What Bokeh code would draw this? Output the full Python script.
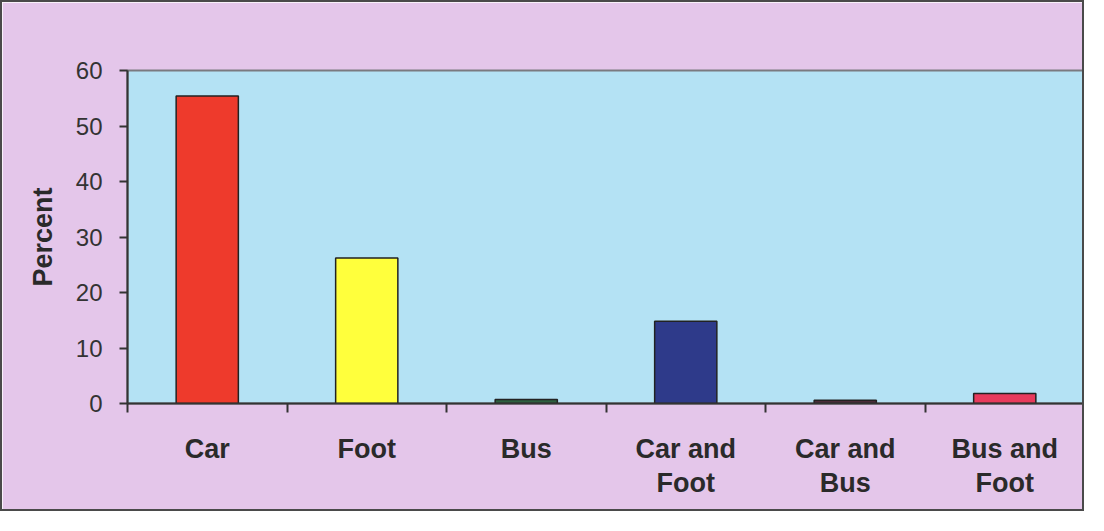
from bokeh.plotting import figure
from bokeh.models import Range1d, FixedTicker, CustomJSTickFormatter, ColumnDataSource
from bokeh.embed import file_html
from bokeh.resources import INLINE

categories = ["Car", "Foot", "Bus", "Car and\nFoot", "Car and\nBus", "Bus and\nFoot"]
percent = [55.4, 26.2, 0.7, 14.8, 0.6, 1.8]
colors = ["#EE3A2C", "#FFFF3C", "#2E6040", "#2E3A8A", "#4A2C38", "#E83A5C"]
y_ticks = [0, 10, 20, 30, 40, 50, 60]

n = len(categories)
xpos = [i + 0.5 for i in range(n)]
src = ColumnDataSource(dict(x=xpos, top=percent, color=colors))

p = figure(width=1084, height=511, output_backend="svg", toolbar_location=None,
           x_range=Range1d(0, n), y_range=Range1d(0, 60),
           min_border_left=125, min_border_top=68, min_border_right=2, min_border_bottom=110)
p.styles = {"border": "2px solid #4A4A4A"}
p.border_fill_color = "#E4C6EA"
p.background_fill_color = "#B4E2F4"
p.outline_line_color = "#7A7A80"
p.outline_line_width = 2
p.grid.visible = False

p.vbar(x="x", top="top", width=0.39, bottom=0, fill_color="color",
       line_color="#222222", line_width=1.5, source=src)

# x axis: labels at centres, tick marks at category boundaries
xa = p.xaxis[0]
xa.ticker = FixedTicker(ticks=xpos, minor_ticks=list(range(n + 1)))
xa.formatter = CustomJSTickFormatter(args=dict(labels=categories),
                                     code="return labels[Math.round(tick - 0.5)];")
xa.major_tick_line_color = None
xa.major_tick_out = 0
xa.major_tick_in = 0
xa.minor_tick_line_color = "#333333"
xa.minor_tick_line_width = 2
xa.minor_tick_out = 9
xa.minor_tick_in = 0
xa.axis_line_color = "#333333"
xa.axis_line_width = 2
xa.major_label_standoff = 21
xa.major_label_text_font = "Liberation Sans"
xa.major_label_text_font_style = "bold"
xa.major_label_text_font_size = "27px"
xa.major_label_text_color = "#2A2A2A"
xa.major_label_text_line_height = 1.15

ya = p.yaxis[0]
ya.ticker = FixedTicker(ticks=y_ticks)
ya.minor_tick_line_color = None
ya.major_tick_out = 8
ya.major_tick_in = 0
ya.major_tick_line_color = "#333333"
ya.major_tick_line_width = 2
ya.axis_line_color = "#333333"
ya.axis_line_width = 2
ya.major_label_standoff = 17
ya.major_label_text_font = "Liberation Sans"
ya.major_label_text_font_size = "24px"
ya.major_label_text_color = "#333333"
ya.axis_label = "Percent"
ya.axis_label_text_font = "Liberation Sans"
ya.axis_label_text_font_style = "bold"
ya.axis_label_text_font_size = "27px"
ya.axis_label_text_color = "#2A2A2A"
ya.axis_label_standoff = 15

open("out.html", "w").write(file_html(p, INLINE))
